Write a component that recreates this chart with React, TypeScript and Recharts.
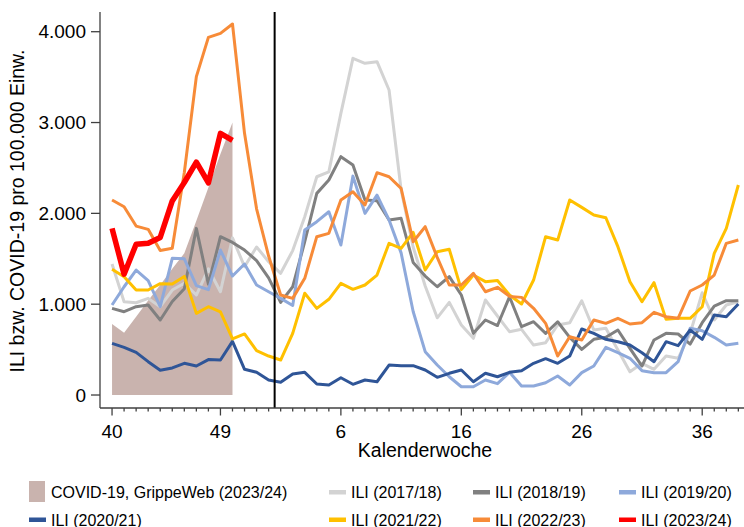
import React from 'react';
import { ComposedChart, Line, Area, XAxis, YAxis, ReferenceLine } from 'recharts';

// Kalenderwochen (Saison-Verlauf KW 40 bis KW 39)
const weeks = [40, 41, 42, 43, 44, 45, 46, 47, 48, 49, 50, 51, 52, 53, 1, 2, 3, 4, 5, 6, 7, 8, 9, 10, 11, 12, 13, 14, 15, 16, 17, 18, 19, 20, 21, 22, 23, 24, 25, 26, 27, 28, 29, 30, 31, 32, 33, 34, 35, 36, 37, 38, 39];
const majorLabels = [40, 49, 6, 16, 26, 36];
const yTicks = [0, 1000, 2000, 3000, 4000];

const covid2324 = [782, 686, 862, 1040, 1210, 1390, 1560, 1918, 2286, 2653, 3000];
const ili1718 = [1442, 1027, 1016, 1064, 972, 1156, 1230, 1101, 1390, 1137, 1730, 1413, 1630, 1468, 1340, 1590, 1963, 2403, 2458, 3101, 3707, 3652, 3670, 3358, 2260, 1630, 1200, 850, 1020, 771, 624, 1046, 870, 697, 723, 550, 576, 771, 796, 1038, 716, 734, 495, 257, 349, 283, 429, 404, 679, 1126, 826, 991, 1027];
const ili1819 = [954, 917, 972, 991, 826, 1030, 1170, 1835, 1220, 1743, 1680, 1596, 1480, 1290, 1020, 1192, 1688, 2220, 2367, 2624, 2532, 2147, 2140, 1927, 1945, 1460, 1310, 1192, 1303, 1101, 679, 826, 765, 1082, 752, 807, 679, 807, 635, 503, 613, 635, 716, 514, 319, 606, 679, 672, 561, 796, 980, 1038, 1038];
const ili1920 = [991, 1192, 1376, 1260, 972, 1505, 1500, 1205, 1160, 1596, 1310, 1442, 1211, 1137, 1064, 985, 1817, 1908, 2018, 1651, 2410, 2000, 2200, 1927, 1565, 920, 477, 330, 201, 91, 91, 165, 125, 250, 99, 99, 135, 209, 110, 246, 319, 525, 466, 404, 268, 246, 246, 367, 734, 708, 635, 550, 569];
const ili2021 = [569, 525, 470, 367, 272, 298, 349, 319, 390, 385, 590, 283, 250, 165, 140, 231, 250, 121, 110, 190, 118, 165, 146, 330, 323, 323, 275, 195, 239, 275, 146, 239, 201, 250, 268, 349, 400, 349, 429, 727, 679, 613, 587, 550, 466, 367, 587, 543, 716, 613, 881, 862, 1002];
const ili2122 = [1384, 1303, 1156, 1156, 1226, 1222, 1306, 899, 972, 915, 618, 672, 488, 429, 385, 679, 1120, 954, 1054, 1230, 1164, 1211, 1321, 1670, 1615, 1790, 1376, 1578, 1604, 1160, 1321, 1248, 1260, 1101, 1002, 1266, 1743, 1706, 2147, 2066, 1982, 1952, 1633, 1248, 1027, 1237, 833, 844, 844, 972, 1560, 1835, 2312];
const ili2223 = [2147, 2073, 1860, 1824, 1592, 1615, 2450, 3505, 3938, 3982, 4085, 2881, 2050, 1530, 1101, 1064, 1285, 1743, 1780, 2147, 2238, 2092, 2448, 2403, 2276, 1688, 1853, 1515, 1211, 1211, 1340, 1137, 1186, 1086, 1075, 955, 789, 429, 642, 606, 826, 789, 844, 782, 796, 910, 862, 844, 1145, 1211, 1321, 1670, 1706];
const ili2324 = [1835, 1330, 1660, 1670, 1735, 2137, 2340, 2565, 2337, 2881, 2803];

const seriesInfo = [
  { key: 'ili1718', name: 'ILI (2017/18)', color: '#D3D3D3', width: 3 },
  { key: 'ili1819', name: 'ILI (2018/19)', color: '#808080', width: 3 },
  { key: 'ili1920', name: 'ILI (2019/20)', color: '#8EA9DB', width: 3 },
  { key: 'ili2021', name: 'ILI (2020/21)', color: '#2F5597', width: 3 },
  { key: 'ili2122', name: 'ILI (2021/22)', color: '#FFC000', width: 3 },
  { key: 'ili2223', name: 'ILI (2022/23)', color: '#F78B38', width: 3 },
  { key: 'ili2324', name: 'ILI (2023/24)', color: '#FF0000', width: 5.5 },
];
const covidInfo = { key: 'covid', name: 'COVID-19, GrippeWeb (2023/24)', color: '#C9B3AE' };

const pick = (arr: number[], i: number) => (i < arr.length ? arr[i] : null);
const data = weeks.map((w, i) => ({
  i,
  week: w,
  covid: pick(covid2324, i),
  ili1718: pick(ili1718, i),
  ili1819: pick(ili1819, i),
  ili1920: pick(ili1920, i),
  ili2021: pick(ili2021, i),
  ili2122: pick(ili2122, i),
  ili2223: pick(ili2223, i),
  ili2324: pick(ili2324, i),
}));
const tickIdx = weeks.map((_, i) => i);
const majorIdx = majorLabels.map((w) => weeks.indexOf(w));
const yearBoundary = weeks.indexOf(53) + 0.5;

const FONT = '"Liberation Sans", Arial, Helvetica, sans-serif';
const AXIS = '#404040';

const XTick = (props: any) => {
  const { x, y, payload } = props;
  const i = payload.value;
  const major = majorIdx.includes(i);
  return (
    <g>
      <line x1={x} y1={y} x2={x} y2={y + (major ? 7.5 : 3.5)} stroke={AXIS} strokeWidth={1.3} />
      {major ? (
        <text x={x} y={y + 30} textAnchor="middle" fontSize={19} fill="#000" fontFamily={FONT}>
          {weeks[i]}
        </text>
      ) : null}
    </g>
  );
};

const fmt = (v: number) => (v === 0 ? '0' : v.toLocaleString('de-DE'));

// legend layout: [item, col x, row]
const legendItems = [
  { ...covidInfo, type: 'area', x: 29, row: 0 },
  { ...seriesInfo[0], type: 'line', x: 329, row: 0 },
  { ...seriesInfo[1], type: 'line', x: 473, row: 0 },
  { ...seriesInfo[2], type: 'line', x: 619, row: 0 },
  { ...seriesInfo[3], type: 'line', x: 29, row: 1 },
  { ...seriesInfo[4], type: 'line', x: 329, row: 1 },
  { ...seriesInfo[5], type: 'line', x: 473, row: 1 },
  { ...seriesInfo[6], type: 'line', x: 619, row: 1 },
];
const rowY = [492, 519.5];

export default function App() {
  return (
    <div style={{ position: 'absolute', left: 0, top: 0, width: 744, height: 527, fontFamily: FONT, background: '#fff', overflow: 'hidden' }}>
      <ComposedChart width={744} height={527} data={data} margin={{ top: 12, right: 0, bottom: 69, left: 0 }}>
        <XAxis
          type="number"
          dataKey="i"
          domain={[-1, 52.47]}
          allowDataOverflow
          ticks={tickIdx}
          interval={0}
          tickLine={false}
          tickSize={0}
          tickMargin={0}
          height={50}
          tick={<XTick />}
          axisLine={{ stroke: AXIS, strokeWidth: 1.3 }}
        />
        <YAxis
          type="number"
          domain={[-143, 4217]}
          allowDataOverflow
          ticks={yTicks}
          interval={0}
          width={100}
          tickSize={9}
          tickMargin={5}
          tickFormatter={fmt}
          tick={{ fontSize: 19, fill: '#000', fontFamily: FONT }}
          tickLine={{ stroke: AXIS, strokeWidth: 1.3 }}
          axisLine={{ stroke: AXIS, strokeWidth: 1.3 }}
        />
        <Area
          type="linear"
          dataKey="covid"
          name={covidInfo.name}
          fill={covidInfo.color}
          fillOpacity={1}
          stroke="none"
          baseValue={0}
          isAnimationActive={false}
        />
        {seriesInfo.map((s) => (
          <Line
            key={s.key}
            type="linear"
            dataKey={s.key}
            name={s.name}
            stroke={s.color}
            strokeWidth={s.width}
            strokeLinejoin="round"
            dot={false}
            activeDot={false}
            isAnimationActive={false}
          />
        ))}
        <ReferenceLine x={yearBoundary} stroke="#000" strokeWidth={2} />
      </ComposedChart>
      <svg width={744} height={527} style={{ position: 'absolute', left: 0, top: 0, pointerEvents: 'none' }} fontFamily={FONT}>
        <text transform="translate(23.5,211) rotate(-90)" textAnchor="middle" fontSize={19.5} fill="#000">
          ILI bzw. COVID-19 pro 100.000 Einw.
        </text>
        <text x={425} y={457} textAnchor="middle" fontSize={19.5} fill="#000">
          Kalenderwoche
        </text>
        {legendItems.map((it) => {
          const cy = rowY[it.row];
          return (
            <g key={it.key}>
              {it.type === 'area' ? (
                <rect x={it.x} y={cy - 11} width={16} height={21} fill={it.color} />
              ) : (
                <rect x={it.x} y={cy - 2} width={17} height={4.5} fill={it.color} />
              )}
              <text x={it.x + 22} y={cy + 6} fontSize={16} fill="#000">
                {it.name}
              </text>
            </g>
          );
        })}
      </svg>
    </div>
  );
}
